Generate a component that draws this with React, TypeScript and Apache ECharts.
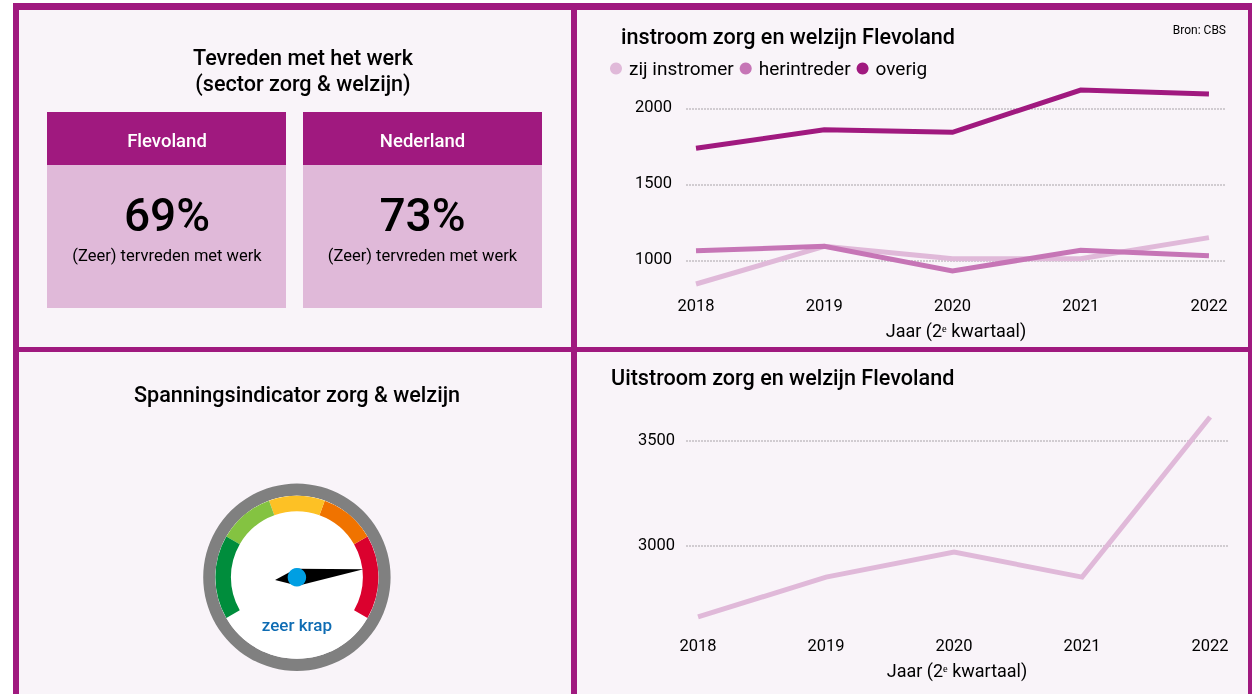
import React, { useEffect, useRef } from "react";
import * as echarts from "echarts";

const years = [2018, 2019, 2020, 2021, 2022];
const zijInstromer = [844, 1092, 1011, 1011, 1149];
const herintreder = [1063, 1092, 930, 1066, 1030];
const overig = [1737, 1859, 1842, 2120, 2094];
const uitstroom = [2662, 2852, 2971, 2852, 3614];
const instroomTicks = [1000, 1500, 2000];
const uitstroomTicks = [3000, 3500];
const gaugeValue = 84.6;
const gaugeLabel = "zeer krap";
const FONT = "Roboto";
const DARK = "#a0197f";
const MID = "#c675b6";
const LIGHT = "#e0b9d9";
const BG = "#f9f4f9";

const zip = (xs: number[], ys: number[]) => xs.map((x, i) => [x, ys[i]]);

const txt = (text: string, x: number, y: number, fontSize: number, fontWeight: any = 400, fill = "#000", align = "center") => ({
  type: "text", x, y, z: 5,
  style: { text, fontFamily: FONT, fontSize, fontWeight, fill, align, verticalAlign: "middle" },
});
const rect = (x: number, y: number, width: number, height: number, fill: string, z = 0) => ({
  type: "rect", z, shape: { x, y, width, height }, style: { fill },
});

const xAxisBase = (gridIndex: number, min: number, max: number, margin: number) => ({
  type: "value", gridIndex, min, max,
  axisLine: { show: false }, splitLine: { show: false },
  axisTick: { show: false, customValues: years },
  axisLabel: { customValues: years, formatter: (v: number) => String(v), color: "#000", fontFamily: FONT, fontSize: 16.5, margin, hideOverlap: false, showMinLabel: true, showMaxLabel: true },
  name: "Jaar (2ᵉ kwartaal)", nameLocation: "middle", nameGap: 31,
  nameTextStyle: { color: "#000", fontFamily: FONT, fontSize: 18 },
});
const yAxisBase = (gridIndex: number, min: number, max: number, ticks: number[], margin: number) => ({
  type: "value", gridIndex, min, max,
  axisLine: { show: false },
  axisTick: { show: false, customValues: ticks },
  axisLabel: { customValues: ticks, formatter: (v: number) => String(v), color: "#000", fontFamily: FONT, fontSize: 16.5, margin, verticalAlign: "bottom", lineHeight: 4 },
  splitLine: { show: true, lineStyle: { color: "#c4bec3", type: [2, 1], width: 1.5 } },
});
const line = (name: string, data: number[], color: string, xAxisIndex: number, z: number) => ({
  type: "line", name, xAxisIndex, yAxisIndex: xAxisIndex, data: zip(years, data), z,
  showSymbol: false, symbol: "none", lineStyle: { color, width: 5, cap: "butt", join: "miter" }, itemStyle: { color },
});

export default function App() {
  const ref = useRef<HTMLDivElement>(null);
  useEffect(() => {
    const chart = echarts.init(ref.current!, undefined, { renderer: "svg" });
    chart.setOption({
      animation: false,
      textStyle: { fontFamily: FONT },
      grid: [
        { left: 686, width: 540, top: 77.9, height: 212.8 },
        { left: 686, width: 542, top: 399, height: 231 },
      ],
      legend: {
        data: ["zij instromer", "herintreder", "overig"],
        left: 605, top: 54, icon: "circle", itemWidth: 12, itemHeight: 12, itemGap: 6,
        textStyle: { color: "#000", fontFamily: FONT, fontSize: 19, padding: [0, 0, 0, 2] },
      },
      xAxis: [xAxisBase(0, 2017.922, 2022.133, 6), xAxisBase(1, 2017.906, 2022.14, 7)],
      yAxis: [yAxisBase(0, 800, 2200, instroomTicks, 14), yAxisBase(1, 2600, 3700, uitstroomTicks, 11)],
      series: [
        line("zij instromer", zijInstromer, LIGHT, 0, 3),
        line("herintreder", herintreder, MID, 0, 4),
        line("overig", overig, DARK, 0, 5),
        line("uitstroom", uitstroom, LIGHT, 1, 3),
        {
          type: "gauge", center: [296.9, 577.3], radius: 81.5, startAngle: 210, endAngle: -30, min: 0, max: 100, z: 6,
          axisLine: { lineStyle: { width: 15.5, color: [[0.25, "#008d3c"], [0.4167, "#84c341"], [0.5833, "#fdc125"], [0.75, "#f07300"], [1, "#db012e"]] } },
          axisTick: { show: false }, splitLine: { show: false }, axisLabel: { show: false },
          pointer: { icon: "path://M5 0 L10 67 L5 89 L0 67 Z", length: 89, width: 17, offsetCenter: [0, 22], itemStyle: { color: "#000" } },
          anchor: { show: true, showAbove: true, size: 18.5, itemStyle: { color: "#009fe3" } },
          title: { show: false },
          detail: { show: true, offsetCenter: [0, 48], formatter: () => gaugeLabel, color: "#0e6cb3", fontFamily: FONT, fontSize: 17, fontWeight: 500 },
          data: [{ value: gaugeValue }],
        },
      ],
      graphic: { elements: [
        rect(13, 3, 1239, 691, DARK, -10),
        rect(19, 10, 552, 337, BG, -9),
        rect(577, 10, 671, 337, BG, -9),
        rect(19, 352, 552, 342, BG, -9),
        rect(577, 352, 671, 342, BG, -9),
        rect(47, 112, 239, 53, DARK, 1), rect(47, 165, 239, 143, LIGHT, 1),
        rect(303, 112, 239, 53, DARK, 1), rect(303, 165, 239, 143, LIGHT, 1),
        { type: "ring", z: 1, shape: { cx: 296.9, cy: 577.3, r: 93.7, r0: 81.5 }, style: { fill: "#808080" } },
        { type: "circle", z: 1, shape: { cx: 296.9, cy: 577.3, r: 81.5 }, style: { fill: "#fff" } },
        txt("Tevreden met het werk", 303, 57, 21.6, 500),
        txt("(sector zorg & welzijn)", 303, 83, 21.6, 500),
        txt("Flevoland", 167, 141, 18.5, 500, "#fff"),
        txt("Nederland", 422.5, 141, 18.5, 500, "#fff"),
        txt("69%", 167, 215, 46, 500),
        txt("73%", 422.5, 215, 46, 500),
        txt("(Zeer) tervreden met werk", 167, 255, 16.5),
        txt("(Zeer) tervreden met werk", 422.5, 255, 16.5),
        txt("instroom zorg en welzijn Flevoland", 621, 36.5, 21.6, 500, "#000", "left"),
        txt("Bron: CBS", 1226, 30, 12, 400, "#000", "right"),
        txt("Spanningsindicator zorg & welzijn", 297, 394.5, 21.6, 500),
        txt("Uitstroom zorg en welzijn Flevoland", 611, 377.5, 21.6, 500, "#000", "left"),
      ] },
    });
    return () => chart.dispose();
  }, []);
  return <div ref={ref} style={{ position: "fixed", left: 0, top: 0, width: 1256, height: 694 }} />;
}
